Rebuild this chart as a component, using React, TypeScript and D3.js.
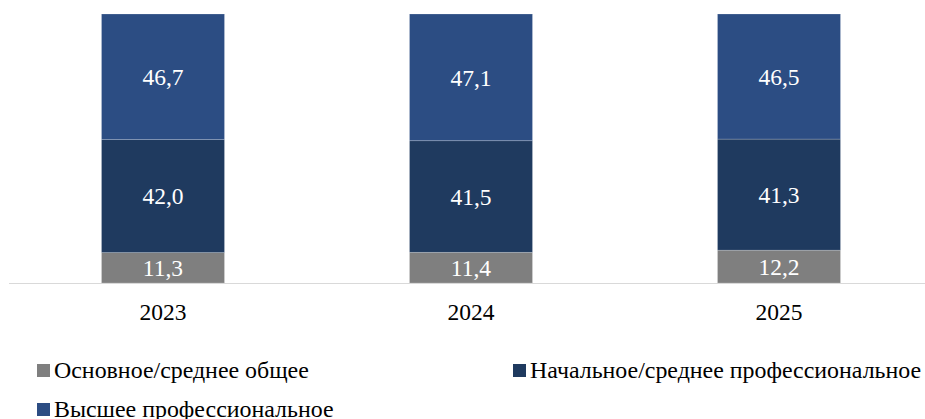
import React from "react";
import * as d3 from "d3";

const years = ["2023", "2024", "2025"];
const seriesNames = ["Основное/среднее общее", "Начальное/среднее профессиональное", "Высшее профессиональное"];
const basicGeneral = [11.3, 11.4, 12.2];
const vocational = [42.0, 41.5, 41.3];
const higher = [46.7, 47.1, 46.5];
const colors = ["#7f7f7f", "#1f3a5f", "#2c4d83"];

const W = 925, H = 419;
const FONT = "Liberation Serif, Times New Roman, serif";

export default function App() {
  const x = d3.scaleBand<string>().domain(years).range([9, 933]).paddingInner(0.6).paddingOuter(0.3);
  const y = d3.scaleLinear().domain([0, 100]).range([283, 14]);
  const rows = years.map((yr, i) => ({ year: yr, s0: basicGeneral[i], s1: vocational[i], s2: higher[i] }));
  const stack = d3.stack<any>().keys(["s0", "s1", "s2"]);
  const layers = stack(rows);
  const fmt = (v: number) => v.toFixed(1).replace(".", ",");
  const bw = 123;
  const legendItems = [
    { i: 0, x: 37, y: 364 },
    { i: 1, x: 513, y: 364 },
    { i: 2, x: 37, y: 403 },
  ];
  const ts = { fontFamily: FONT, fontSize: "23.5px" };
  const ls = { fontFamily: FONT, fontSize: "23.9px" };
  return (
    <svg width={W} height={H} style={{ position: "absolute", left: 0, top: 0, background: "#fff", fontFamily: FONT }}>
      {layers.map((layer, li) => (
        <g key={li}>
          {layer.map((d, di) => {
            const cx = (x(years[di]) as number) + x.bandwidth() / 2;
            const y0 = y(d[0]), y1 = y(d[1]);
            return (
              <g key={di}>
                <rect x={cx - bw / 2} y={y1} width={bw} height={y0 - y1} fill={colors[li]} stroke="#ffffff" strokeOpacity={0.25} strokeWidth={0.8} />
                <text x={cx} y={(y0 + y1) / 2} dy="0.35em" textAnchor="middle" fill="#fff" style={ts}>
                  {fmt(d[1] - d[0])}
                </text>
              </g>
            );
          })}
        </g>
      ))}
      <line x1={9} x2={925} y1={283.5} y2={283.5} stroke="#d9d9d9" strokeWidth={1.2} />
      {years.map((yr) => (
        <text key={yr} x={(x(yr) as number) + x.bandwidth() / 2} y={311.5} dy="0.35em" textAnchor="middle" fill="#000" style={ts}>
          {yr}
        </text>
      ))}
      {legendItems.map((it) => (
        <g key={it.i}>
          <rect x={it.x} y={it.y} width={13} height={13} fill={colors[it.i]} />
          <text x={it.x + 17} y={it.y + 14} fill="#000" style={ls}>
            {seriesNames[it.i]}
          </text>
        </g>
      ))}
    </svg>
  );
}
